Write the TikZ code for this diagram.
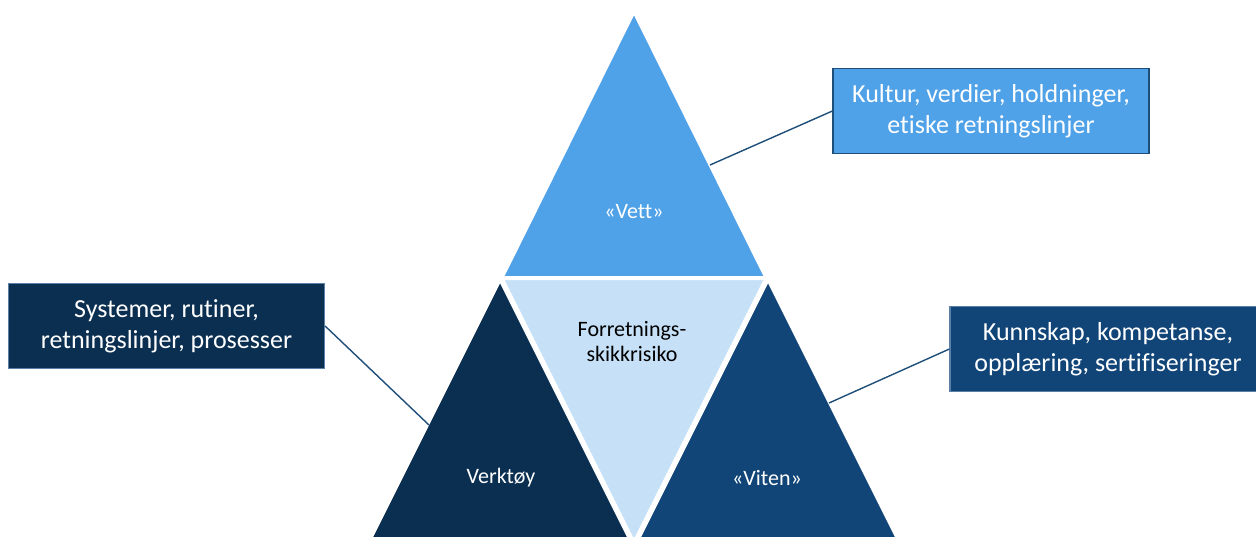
\documentclass[tikz,border=0pt]{standalone}
\usepackage{fontspec}
\setmainfont[Ligatures=NoCommon]{Carlito}
\usepackage{tikz}

\definecolor{vettblue}{HTML}{4FA1E8}
\definecolor{riskblue}{HTML}{C5E0F7}
\definecolor{toolblue}{HTML}{0B2F51}
\definecolor{vitenblue}{HTML}{124577}
\definecolor{linkblue}{HTML}{1F4E79}
\definecolor{edgeblue}{HTML}{5B80A8}

\begin{document}
\begin{tikzpicture}[x=1pt,y=-1pt,
    tri/.style={draw=white, line width=2pt},
    lab/.style={text=white, align=center, font=\fontsize{22}{25}\selectfont},
    box/.style={draw=edgeblue, line width=1.2pt, text=white, align=center,
      minimum width=316pt, minimum height=85pt, inner sep=0pt,
      font=\fontsize{26}{31}\selectfont},
    link/.style={draw=linkblue, line width=1.4pt}]
  \useasboundingbox (0,0) rectangle (1256,536);
  \clip (0,0) rectangle (1256,536);

  % triangles
  \path[tri, fill=riskblue]  (503,279) -- (765,279) -- (634,541) -- cycle;
  \path[tri, fill=vettblue]  (634,13)  -- (765,277) -- (503,277) -- cycle;
  \path[tri, fill=toolblue]  (500,281) -- (631,543) -- (369,543) -- cycle;
  \path[tri, fill=vitenblue] (768,281) -- (899,543) -- (637,543) -- cycle;

  \node[lab]              (vett)   at (634,212) {«Vett»};
  \node[lab, text=black]  (risk)   at (632,342) {Forretnings-\\skikkrisiko};
  \node[lab]              (tool)   at (501,478) {Verktøy};
  \node[lab]              (viten)  at (767,478) {«Viten»};

  % boxes
  \node[box, fill=vettblue, draw=linkblue] (kultur)  at (991,111)  {Kultur, verdier, holdninger,\\etiske retningslinjer};
  \node[box, fill=toolblue]                (system)  at (166.5,326) {Systemer, rutiner,\\retningslinjer, prosesser};
  \node[box, fill=vitenblue]               (kunnskap) at (1108,349) {Kunnskap, kompetanse,\\opplæring, sertifiseringer};

  \coordinate (vett-e)  at (710,165);
  \coordinate (tool-e)  at (429,425);
  \coordinate (viten-e) at (829,403);

  \draw[link]
      (vett-e)  edge (kultur.west)
      (tool-e)  edge (system.east)
      (viten-e) edge (kunnskap.west);
\end{tikzpicture}
\end{document}
